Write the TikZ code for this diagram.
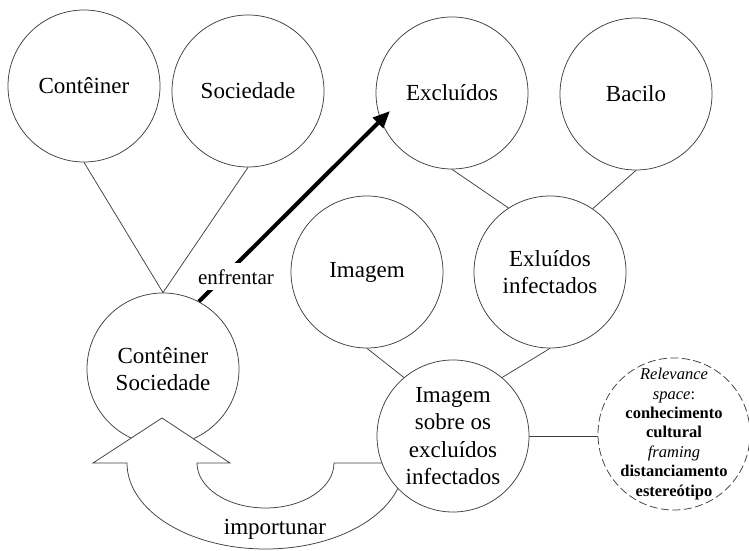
\documentclass[tikz,border=0pt]{standalone}
\usepackage{fontspec}
\setmainfont{Liberation Serif}
\usetikzlibrary{arrows.meta}
\begin{document}
\begin{tikzpicture}[x=1pt,y=1pt,
  bubble/.style={circle,draw=black!75,line width=0.75pt,fill=white,
    minimum size=152pt,inner sep=0pt,align=center,
    font=\fontsize{23}{27.5}\selectfont},
  bubbletext/.style={align=center,inner sep=0pt,
    font=\fontsize{23}{27.5}\selectfont},
  smalltext/.style={align=center,inner sep=0pt,
    font=\fontsize{16.5}{19.4}\selectfont},
  link/.style={draw=black!75,line width=0.75pt},
  uturn/.style={draw=black!75,line width=0.75pt,fill=white},
  bold arrow/.style={line width=4pt,-{Triangle[length=17pt,width=14pt]}}]
\useasboundingbox (0,0) rectangle (749,551);

% upper row of concepts
\node[bubble] (cont) at (84,465) {Contêiner};
\node[bubble] (soc)  at (248,460) {Sociedade};
\node[bubble] (excl) at (452,458) {Excluídos};
\node[bubble] (bac)  at (636,457) {Bacilo};

% middle row
\node[bubble] (img)   at (367,279) {Imagem};
\node[bubble] (exinf) at (550,279) {Exluídos\\infectados};
\node[bubble] (contsoc) at (163,182) {Contêiner\\Sociedade};

% blends
\draw[link] (cont.south) -- (contsoc.north);
\draw[link] (soc.south) -- (contsoc.north);
\draw[link] (excl.south) -- (exinf.123);
\draw[link] (bac.south) -- (exinf.56);

% u-turn block arrow back to the container-society space
\draw[uturn] (162,133) -- (230,88) -- (197,88)
  arc[start angle=180,end angle=360,x radius=68.5,y radius=45]
  -- (404,88)
  arc[start angle=0,end angle=-180,x radius=138.5,y radius=86]
  -- (93,88) -- cycle;
\node[bubbletext] (imp) at (275,22) {importunar};

% final blend and its relevance space
\node[bubble] (imgsob) at (453,115) {};
\node[bubbletext] at (imgsob) {Imagem\\sobre os\\excluídos\\infectados};
\draw[link] (img.south) -- (imgsob.130);
\draw[link] (exinf.south) -- (imgsob.50);

\node[bubble,dashed,dash pattern=on 8pt off 3.5pt] (rel) at (674,117) {};
\node[smalltext] at (rel) {{\itshape Relevance}\\{\itshape space}:\\
  \textbf{conhecimento}\\\textbf{cultural}\\{\itshape framing}\\
  \textbf{distanciamento}\\\textbf{estereótipo}};
\draw[link] (imgsob.east) -- (rel.west |- imgsob.east);

% confrontation arrow
\coordinate (hit) at (390,440);
\draw[bold arrow] (contsoc.62) -- (hit);
\node[fill=white,inner sep=6pt,font=\fontsize{21}{25}\selectfont]
  (enf) at (236,274) {enfrentar};
\end{tikzpicture}
\end{document}
